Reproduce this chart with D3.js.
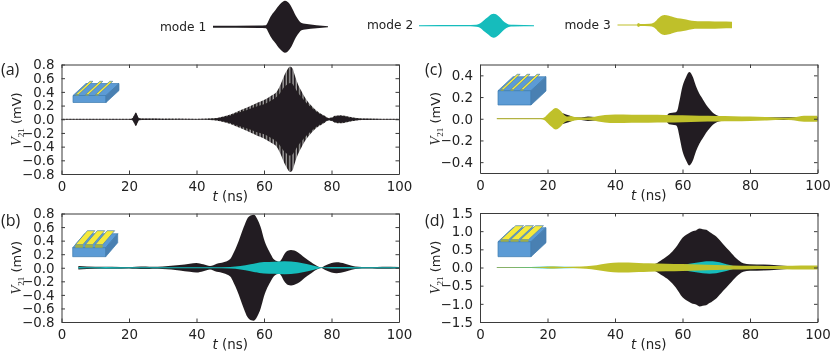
<!DOCTYPE html>
<html><head><meta charset="utf-8">
<script src="https://cdn.jsdelivr.net/npm/d3@7"></script>
<style>html,body{margin:0;padding:0;background:#fff}svg{display:block}text{font-family:"DejaVu Sans";fill:#222}</style>
</head><body><svg id="c" width="830" height="352"></svg>
<script>
const colBlack="#231f20", colCyan="#12bcbc", colYellow="#bfc02c";
const xTicks=[0,20,40,60,80,100];
const yTicksAB=[-0.8,-0.6,-0.4,-0.2,0,0.2,0.4,0.6,0.8];
const yTicksC=[-0.4,-0.2,0,0.2,0.4];
const yTicksD=[-1.5,-1,-0.5,0,0.5,1,1.5];
const legendNames=["mode 1","mode 2","mode 3"];

// envelopes as [t, amplitude]
const aOuter=[[0,.006],[20,.006],[21,.015],[21.5,.06],[22,.1],[22.5,.06],[23,.015],[25,.012],[30,.01],[40,.008],[45,.014],[47,.03],[50,.07],[52,.11],[55,.17],[58,.24],[60,.28],[62,.34],[64,.42],[65,.52],[66,.64],[67,.73],[67.7,.77],[68.5,.74],[69,.66],[70,.52],[71,.42],[72,.33],[74,.2],[76,.11],[78,.05],[79,.02],[80,.025],[81,.05],[82.5,.06],[84,.05],[86,.03],[88,.015],[90,.012],[100,.008]];
const aInner=[[0,.003],[20,.003],[21,.012],[21.5,.05],[22,.09],[22.5,.05],[23,.01],[25,.006],[30,.005],[40,.004],[45,.009],[47,.022],[50,.055],[52,.09],[55,.135],[58,.19],[60,.22],[62,.27],[64,.34],[65,.4],[66,.47],[67,.51],[67.7,.53],[68.5,.51],[69,.47],[70,.39],[71,.33],[72,.27],[74,.17],[76,.095],[78,.042],[79,.016],[80,.02],[81,.042],[82.5,.052],[84,.042],[86,.022],[88,.011],[90,.007],[100,.004]];
const bBlack=[[5,.025],[10,.014],[15,.014],[20,.01],[22,.015],[25,.02],[27,.015],[30,.02],[35,.04],[38,.06],[40,.07],[42,.05],[44,.025],[46,.06],[48,.08],[50,.13],[51,.22],[52,.33],[54,.6],[55,.72],[56,.77],[57,.78],[58,.72],[59,.6],[60,.42],[62,.2],[63,.12],[64.5,.09],[65,.11],[66,.2],[67,.25],[68,.26],[70,.23],[72,.15],[74,.08],[76,.02],[77,.005],[78,.03],[80,.07],[81.5,.08],[84,.06],[86,.03],[88,.015],[90,.012],[92,.012],[95,.016],[100,.012]];
const bCyan=[[5,.01],[10,.006],[13,.012],[20,.006],[30,.006],[45,.006],[50,.012],[53,.025],[56,.05],[60,.085],[63,.09],[66,.095],[70,.08],[73,.05],[76,.015],[77,.005],[80,.012],[85,.012],[90,.006],[100,.008]];
const cBlack=[[5,.002],[19,.002],[22,.05],[24,.05],[25.5,.04],[26.5,.03],[28,.012],[30,.012],[32,.02],[34,.015],[40,.015],[55,.02],[56,.05],[58,.06],[58.5,.08],[59,.15],[60,.3],[61,.38],[62,.43],[63,.39],[64,.3],[65,.23],[66,.18],[67,.13],[68,.09],[69,.055],[70,.035],[72,.018],[80,.012],[100,.015]];
const cYellow=[[5,.004],[18,.004],[19,.012],[20,.04],[21,.07],[22.5,.1],[23,.095],[24,.07],[25,.035],[26,.02],[27,.025],[28,.016],[30,.012],[33,.014],[35,.025],[37,.035],[40,.04],[45,.038],[50,.036],[55,.035],[60,.032],[65,.028],[70,.026],[75,.024],[80,.02],[85,.016],[90,.009],[93,.014],[96,.028],[100,.028]];
const dBlack=[[5,.005],[30,.012],[45,.025],[50,.05],[52,.1],[54,.22],[56,.35],[58,.55],[60,.82],[62,.95],[63,1],[64,1.02],[65,1.07],[66,1.05],[67,1.04],[68,.98],[70,.85],[72,.65],[74,.45],[76,.25],[78,.12],[80,.09],[84,.08],[88,.06],[92,.035],[100,.025]];
const dCyan=[[5,.006],[15,.012],[20,.025],[30,.012],[50,.02],[58,.03],[60,.06],[62,.1],[64,.13],[66,.16],[68,.17],[70,.16],[72,.12],[74,.07],[76,.03],[80,.02],[100,.012]];
const dYellow=[[5,.008],[15,.01],[20,.018],[22,.025],[25,.015],[30,.025],[33,.045],[36,.09],[38,.12],[41,.135],[44,.135],[47,.125],[50,.115],[55,.105],[60,.095],[65,.085],[70,.07],[75,.055],[80,.045],[85,.04],[90,.045],[95,.055],[100,.055]];
const legend1=[[0,.04],[40,.05],[46,.06],[48,.2],[50,.38],[54,.62],[58,.85],[61,.97],[62.5,1],[65,.95],[68,.78],[72,.42],[75,.22],[77,.14],[80,.11],[90,.06],[100,.02]];
const legend2=[[0,.04],[40,.05],[50,.08],[53,.18],[56,.42],[60,.72],[63,.95],[65,1],[67,.95],[70,.72],[73,.42],[76,.2],[78,.1],[82,.07],[100,.04]];
const legend3=[[0,.04],[15,.05],[17,.05],[18,.2],[20,.1],[28,.12],[32,.25],[36,.7],[39,.95],[41,1],[45,.93],[50,.75],[60,.55],[65,.42],[70,.38],[80,.37],[90,.34],[100,.32]];

const svg=d3.select("#c");
const defs=svg.append("defs");
defs.append("filter").attr("id","soft").attr("x","-2%").attr("y","-2%").attr("width","104%").attr("height","104%")
  .append("feGaussianBlur").attr("stdDeviation",0.35);
const pat=defs.append("pattern").attr("id","fringe").attr("patternUnits","userSpaceOnUse").attr("width",3.3).attr("height",10);
pat.append("rect").attr("width",3.3).attr("height",10).attr("fill","#a5a3a4");
pat.append("rect").attr("width",2).attr("height",10).attr("fill",colBlack);

const root=svg.append("g").attr("filter","url(#soft)");
const fmt=v=>{const s=Math.abs(v).toFixed(1);return (v<0?"\u2212":"")+s;};

function env(g,data,x,y,fill){
  g.append("path").datum(data).attr("fill",fill)
   .attr("d",d3.area().curve(d3.curveMonotoneX).x(d=>x(d[0])).y0(d=>y(-d[1])).y1(d=>y(d[1])));
}

function icon(o){
  const g=root.append("g").attr("transform",`translate(${o.x},${o.y})`);
  const {w,h,dx,dy,sw}=o, st="#3f7cb0";
  const poly=(p,f,s)=>g.append("polygon").attr("points",p.map(q=>q.join(",")).join(" ")).attr("fill",f).attr("stroke",s||"none").attr("stroke-width",.7);
  poly([[0,0],[w,0],[w+dx,dy],[dx,dy]],"#5b9bd5",st);
  poly([[0,0],[w,0],[w,h],[0,h]],"#5b9bd5",st);
  poly([[w,0],[w+dx,dy],[w+dx,dy+h],[w,h]],"#4a80b2",st);
  [0.08,0.38,0.68].forEach(f=>{
    const a=w*f, b=a+sw, ex=o.over||0, t=o.thick||1.6;
    const k=1+ex;
    poly([[a,-t],[b,-t],[b+dx*k,dy*k-t],[a+dx*k,dy*k-t]],"#f5e93a","#4a80b2");
    poly([[a,0],[b,0],[b,-t],[a,-t]],"#9fae4a");
  });
}

function panel(p){
  const x=d3.scaleLinear().domain([0,100]).range([p.l,p.r]);
  const y=d3.scaleLinear().domain([-p.ymax,p.ymax]).range([p.b,p.t]);
  const g=root.append("g");
  p.series.forEach(s=>env(g,s[0],x,y,s[1]));
  const ax=(gen,tx,ty)=>{
    const a=root.append("g").attr("transform",`translate(${tx},${ty})`).call(gen);
    a.select(".domain").attr("stroke","#3a3a3a");
    a.selectAll(".tick line").attr("stroke","#3a3a3a");
    a.selectAll("text").style("font-size","13.4px").style("fill","#222");
    return a;
  };
  ax(d3.axisBottom(x).tickValues(xTicks).tickSize(-3.5).tickPadding(7).tickSizeOuter(0).tickFormat(d3.format("d")),0,p.b);
  ax(d3.axisTop(x).tickValues(xTicks).tickSize(-3.5).tickSizeOuter(0).tickFormat(""),0,p.t);
  ax(d3.axisLeft(y).tickValues(p.yt).tickSize(-3.5).tickPadding(7).tickSizeOuter(0).tickFormat(fmt),p.l,0);
  ax(d3.axisRight(y).tickValues(p.yt).tickSize(-3.5).tickSizeOuter(0).tickFormat(""),p.r,0);
  root.append("text").attr("x",(p.l+p.r)/2).attr("y",p.b+26.5).attr("text-anchor","middle").style("font-size","13.4px")
    .html('<tspan font-style="italic">t</tspan> (ns)');
  const cy=(p.t+p.b)/2;
  root.append("text").attr("transform",`translate(${p.l-40.5},${cy}) rotate(-90)`).attr("text-anchor","middle").style("font-size","13px")
    .html('<tspan font-style="italic" font-family="Liberation Serif" font-size="14.5">V</tspan><tspan font-family="Liberation Serif" font-size="9" dy="3">21</tspan><tspan dy="-3"> (mV)</tspan>');
  root.append("text").attr("x",p.tagX).attr("y",p.tagY).style("font-family","Open Sans").style("font-size","16px").text(p.tag);
}

panel({l:61.5,r:399,t:64.5,b:174,ymax:.8,yt:yTicksAB,tag:"(a)",tagX:1,tagY:75,series:[[aOuter,"url(#fringe)"],[aInner,colBlack]]});
panel({l:61.5,r:399,t:213.5,b:322,ymax:.8,yt:yTicksAB,tag:"(b)",tagX:1,tagY:226,series:[[bBlack,colBlack],[bCyan,colCyan]]});
panel({l:480,r:817.5,t:64.5,b:173,ymax:.5,yt:yTicksC,tag:"(c)",tagX:425,tagY:75,series:[[cBlack,colBlack],[cYellow,colYellow]]});
panel({l:480,r:817.5,t:213,b:322,ymax:1.5,yt:yTicksD,tag:"(d)",tagX:425,tagY:226,series:[[dBlack,colBlack],[dCyan,colCyan],[dYellow,colYellow]]});

icon({x:73,y:95.5,w:33,h:7,dx:13,dy:-12,sw:3,over:.1,thick:1});
icon({x:72.7,y:247.7,w:33,h:9,dx:12,dy:-14,sw:7.5,thick:3});
icon({x:498,y:90.7,w:33,h:14.3,dx:15,dy:-14,sw:3,over:.1,thick:1});
icon({x:498,y:241.7,w:33,h:15,dx:15,dy:-14,sw:8,thick:2});

[[legend1,colBlack,160,31,213,328,26.7,26],[legend2,colCyan,367,29,419,534,25.7,12],[legend3,colYellow,564.5,29,617.5,732,25,10]].forEach((l,i)=>{
  root.append("text").attr("x",l[2]).attr("y",l[3]).style("font-size","12.2px").text(legendNames[i]);
  const x=d3.scaleLinear().domain([0,100]).range([l[4],l[5]]);
  const y=d3.scaleLinear().domain([-1,1]).range([l[6]+l[7],l[6]-l[7]]);
  env(root,l[0],x,y,l[1]);
});
</script></body></html>
